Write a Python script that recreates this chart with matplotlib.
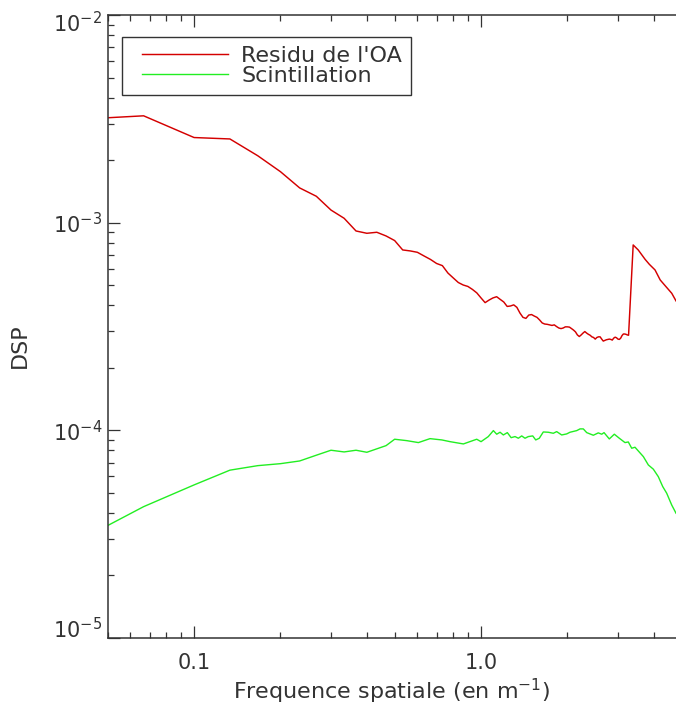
#!/usr/bin/env python3
import matplotlib

matplotlib.use("Agg")

import matplotlib.pyplot as plt
from matplotlib.legend_handler import HandlerLine2D
from matplotlib.ticker import LogLocator, NullFormatter
from matplotlib.transforms import ScaledTranslation

# spatial frequency (m^-1) and PSD
red_freq = [0.05, 0.0667, 0.1, 0.1333, 0.1667, 0.2, 0.2333, 0.2667, 0.3, 0.3333,
            0.3667, 0.4, 0.4333, 0.4667, 0.5, 0.5333, 0.5667, 0.6, 0.6333, 0.6667,
            0.7, 0.7333, 0.7667, 0.8, 0.8333, 0.8667, 0.9, 0.9333, 0.9667, 1.0,
            1.0333, 1.0667, 1.1, 1.1333, 1.1667, 1.2, 1.2333, 1.2667, 1.3, 1.3333,
            1.3667, 1.4, 1.4333, 1.4667, 1.5, 1.5333, 1.5667, 1.6, 1.6333, 1.6667,
            1.7, 1.7333, 1.7667, 1.8, 1.8333, 1.8667, 1.9, 1.9333, 1.9667, 2.0,
            2.0333, 2.0667, 2.1, 2.1333, 2.1667, 2.2, 2.2333, 2.2667, 2.3, 2.3333,
            2.3667, 2.4, 2.4333, 2.4667, 2.5, 2.5333, 2.5667, 2.6, 2.6333, 2.6667,
            2.7, 2.7333, 2.7667, 2.8, 2.8333, 2.8667, 2.9, 2.9333, 2.9667, 3.0,
            3.0333, 3.0667, 3.1, 3.1333, 3.1667, 3.2, 3.2333, 3.2667, 3.39, 3.53,
            3.73, 3.86, 4.04, 4.21, 4.41, 4.62, 4.78]
red_dsp = [3.20e-3, 3.27e-3, 2.57e-3, 2.53e-3, 2.10e-3, 1.76e-3, 1.47e-3, 1.34e-3, 1.15e-3, 1.05e-3,
           9.12e-4, 8.89e-4, 8.99e-4, 8.63e-4, 8.20e-4, 7.39e-4, 7.31e-4, 7.20e-4, 6.91e-4, 6.65e-4,
           6.36e-4, 6.21e-4, 5.72e-4, 5.42e-4, 5.15e-4, 5.01e-4, 4.93e-4, 4.77e-4, 4.59e-4, 4.34e-4,
           4.12e-4, 4.24e-4, 4.34e-4, 4.40e-4, 4.27e-4, 4.15e-4, 3.95e-4, 3.97e-4, 4.02e-4, 3.91e-4,
           3.67e-4, 3.50e-4, 3.46e-4, 3.59e-4, 3.61e-4, 3.55e-4, 3.50e-4, 3.40e-4, 3.29e-4, 3.25e-4,
           3.24e-4, 3.22e-4, 3.20e-4, 3.22e-4, 3.16e-4, 3.11e-4, 3.09e-4, 3.11e-4, 3.15e-4, 3.15e-4,
           3.14e-4, 3.09e-4, 3.04e-4, 2.98e-4, 2.88e-4, 2.83e-4, 2.88e-4, 2.94e-4, 2.99e-4, 2.94e-4,
           2.90e-4, 2.87e-4, 2.82e-4, 2.80e-4, 2.75e-4, 2.80e-4, 2.82e-4, 2.82e-4, 2.75e-4, 2.69e-4,
           2.71e-4, 2.73e-4, 2.74e-4, 2.75e-4, 2.74e-4, 2.72e-4, 2.78e-4, 2.81e-4, 2.79e-4, 2.75e-4,
           2.74e-4, 2.78e-4, 2.86e-4, 2.91e-4, 2.91e-4, 2.90e-4, 2.88e-4, 2.87e-4, 7.81e-4, 7.39e-4,
           6.66e-4, 6.30e-4, 5.92e-4, 5.30e-4, 4.92e-4, 4.57e-4, 4.20e-4]

green_freq = [0.05, 0.0667, 0.1, 0.1333, 0.1667, 0.2, 0.2333, 0.2667, 0.3, 0.3333,
              0.3667, 0.4, 0.4667, 0.5, 0.551, 0.605, 0.664, 0.730, 0.780, 0.868,
              0.966, 1.0, 1.060, 1.104, 1.134, 1.165, 1.196, 1.235, 1.273, 1.314,
              1.349, 1.386, 1.423, 1.461, 1.514, 1.551, 1.596, 1.648, 1.716, 1.786,
              1.835, 1.910, 1.988, 2.042, 2.155, 2.213, 2.272, 2.335, 2.462, 2.562,
              2.634, 2.683, 2.799, 2.914, 3.033, 3.175, 3.260, 3.350, 3.440, 3.679,
              3.829, 3.985, 4.148, 4.297, 4.436, 4.618, 4.78]
green_dsp = [3.48e-5, 4.29e-5, 5.46e-5, 6.43e-5, 6.76e-5, 6.91e-5, 7.12e-5, 7.59e-5, 8.02e-5, 7.87e-5,
             8.02e-5, 7.84e-5, 8.44e-5, 9.06e-5, 8.92e-5, 8.73e-5, 9.12e-5, 8.99e-5, 8.82e-5, 8.60e-5,
             9.06e-5, 8.82e-5, 9.33e-5, 9.97e-5, 9.58e-5, 9.79e-5, 9.50e-5, 9.75e-5, 9.22e-5, 9.33e-5,
             9.16e-5, 9.40e-5, 9.16e-5, 9.33e-5, 9.40e-5, 8.99e-5, 9.16e-5, 9.82e-5, 9.79e-5, 9.68e-5,
             9.86e-5, 9.50e-5, 9.61e-5, 9.79e-5, 9.97e-5, 1.016e-4, 1.016e-4, 9.75e-5, 9.47e-5, 9.72e-5,
             9.58e-5, 9.75e-5, 9.09e-5, 9.58e-5, 9.16e-5, 8.73e-5, 8.79e-5, 8.20e-5, 8.29e-5, 7.47e-5,
             6.81e-5, 6.50e-5, 5.98e-5, 5.36e-5, 4.98e-5, 4.37e-5, 3.99e-5]

labels = ["Residu de l'OA", "Scintillation"]
xtick_vals = [0.1, 1.0]
xtick_text = ["0.1", "1.0"]
ytick_vals = [1e-5, 1e-4, 1e-3, 1e-2]
ytick_text = [r"$10^{-5}$", r"$10^{-4}$", r"$10^{-3}$", r"$10^{-2}$"]

INK = "#333333"


def main():
    plt.rcParams["font.family"] = ["DejaVu Sans"]
    plt.rcParams["mathtext.fontset"] = "dejavusans"

    fig = plt.figure(figsize=(6.76, 7.05), dpi=100)
    # the original is cropped on the right, so the axes run to the edge
    ax = fig.add_axes([107.7 / 676, 67 / 705, 1 - 107.7 / 676, 623 / 705])

    ax.plot(red_freq, red_dsp, color="#d40000", lw=1.05, label=labels[0])
    ax.plot(green_freq, green_dsp, color="#22ee22", lw=1.0, label=labels[1])

    ax.set_xscale("log")
    ax.set_yscale("log")
    ax.set_xlim(0.05, 4.78)
    ax.set_ylim(1e-5, 1e-2)

    ax.set_xticks(xtick_vals, xtick_text)
    ax.set_yticks(ytick_vals, ytick_text)
    ax.xaxis.set_minor_locator(LogLocator(base=10, subs=range(2, 10)))
    ax.yaxis.set_minor_locator(LogLocator(base=10, subs=range(2, 10)))
    ax.xaxis.set_minor_formatter(NullFormatter())
    ax.yaxis.set_minor_formatter(NullFormatter())

    ax.tick_params(which="both", direction="in", top=True, right=False,
                   color=INK, width=0.9, labelcolor=INK, labelsize=15)
    ax.tick_params(which="major", length=8.5)
    ax.tick_params(which="minor", length=4)
    ax.tick_params(axis="x", pad=11)
    ax.tick_params(axis="y", pad=4)

    for side in ("left", "bottom", "top"):
        ax.spines[side].set_color(INK)
        ax.spines[side].set_linewidth(1.1)
    ax.spines["right"].set_visible(False)

    # IDL keeps the end labels inside the axis range
    ylabs = ax.get_yticklabels()
    ylabs[0].set_va("baseline")
    ylabs[-1].set_va("top")
    ylabs[-1].set_transform(ylabs[-1].get_transform()
                            + ScaledTranslation(0, 3 / 72, fig.dpi_scale_trans))

    ax.set_xlabel(r"Frequence spatiale (en m$^{-1}$)", fontsize=16, color=INK)
    ax.xaxis.set_label_coords(0.5, -0.062)
    ax.set_ylabel("DSP", fontsize=16, color=INK)
    ax.yaxis.set_label_coords(-0.137, 0.47)

    leg = ax.legend(loc="upper left", bbox_to_anchor=(121.7 / 676, 1 - 37.3 / 705),
                    bbox_transform=fig.transFigure, borderaxespad=0, fontsize=16,
                    frameon=True, fancybox=False, framealpha=1, edgecolor=INK,
                    handlelength=4.41, handletextpad=0.6, borderpad=0.38,
                    labelspacing=0.02,
                    handler_map={plt.Line2D: HandlerLine2D(xpad=0.55)})
    leg.get_frame().set_linewidth(1.0)
    for t in leg.get_texts():
        t.set_color(INK)

    fig.savefig("out.png", dpi=100)


main()
